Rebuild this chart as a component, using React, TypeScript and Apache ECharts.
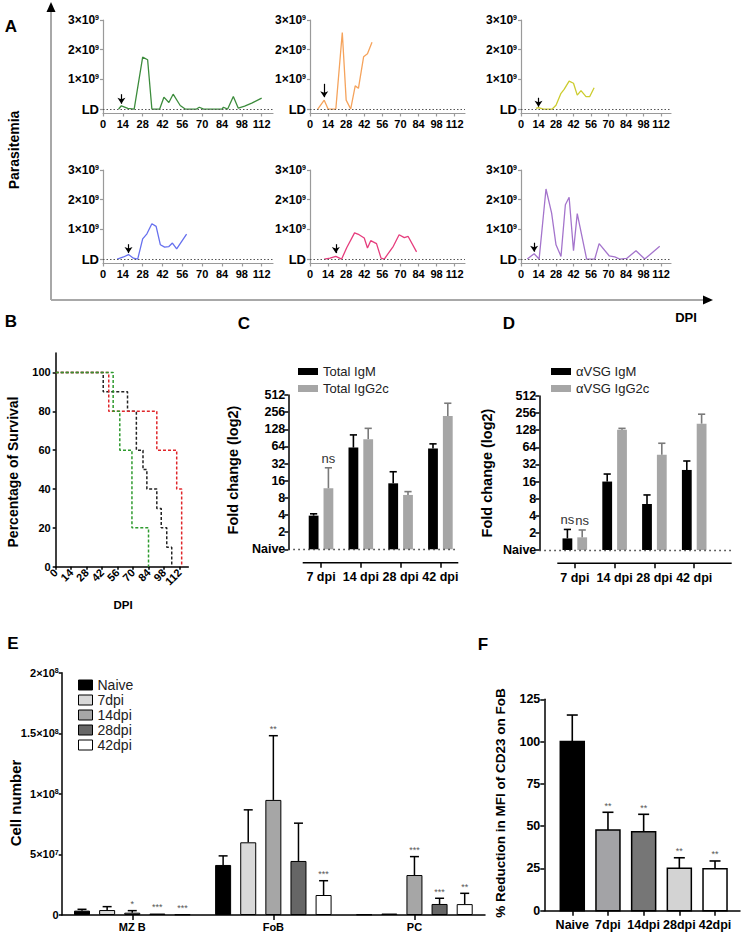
import React, { useEffect, useRef } from "react";
import * as echarts from "echarts";

const FONT = '"Liberation Sans", Arial, Helvetica, sans-serif';

// ---------------- Panel A: parasitemia per mouse (x10^9) ----------------
const dpiTicks = [0, 14, 28, 42, 56, 70, 84, 98, 112];
const parasitemiaTicks = [0, 1, 2, 3];

const mouse1Days = [11, 13, 17.5, 22, 28, 31.5, 34.5, 40, 43, 46.5, 49.5, 54.5, 58, 66, 68, 71, 84, 85, 88, 92, 95.5, 100, 105, 112];
const mouse1Para = [0, 0.11, 0.02, 0, 1.75, 1.66, 0, 0, 0.4, 0.22, 0.5, 0.12, 0, 0, 0.06, 0, 0, 0.06, 0, 0.42, 0.03, 0.1, 0.2, 0.37];
const mouse2Days = [6, 11, 14, 20, 25, 28, 31.5, 35, 37.5, 41.5, 44.5, 48];
const mouse2Para = [0, 0.3, 0, 0, 2.58, 0.3, 0, 0.78, 0.7, 1.76, 1.86, 2.25];
const mouse3Days = [12, 14, 18, 25, 28, 32, 34.5, 38.5, 42, 45, 48, 52, 55, 58.5];
const mouse3Para = [0.02, 0.05, 0, 0, 0.13, 0.53, 0.66, 0.94, 0.87, 0.47, 0.62, 0.42, 0.42, 0.72];
const mouse4Days = [10, 14.5, 18, 21.5, 24.5, 28, 31, 34.5, 37.5, 40.5, 43.5, 46.5, 49, 52, 59];
const mouse4Para = [0, 0.07, 0.15, 0.03, 0, 0.68, 0.85, 1.19, 1.1, 0.48, 0.4, 0.42, 0.54, 0.34, 0.84];
const mouse5Days = [11, 15.5, 20, 24.5, 28.5, 34.5, 38, 42, 44.5, 47, 51.5, 55, 57.5, 64.5, 69, 73, 76, 82.5];
const mouse5Para = [0, 0.03, 0.09, 0, 0.39, 0.88, 0.82, 0.71, 0.37, 0.62, 0.52, 0.03, 0, 0.43, 0.82, 0.72, 0.76, 0.24];
const mouse6Days = [5, 10.5, 14.5, 20, 24.5, 28, 32, 35.5, 38.5, 42, 45, 52.5, 59, 62.5, 70.5, 75, 79, 84.5, 92, 99, 111];
const mouse6Para = [0, 0.18, 0, 2.36, 1.55, 0.48, 0.09, 1.83, 2.08, 0.28, 1.53, 0, 0, 0.52, 0.11, 0.07, 0, 0.02, 0.28, 0, 0.43];

// arrows (first-peak markers)
const arrowDays = [13, 11, 14, 18, 20, 10.5];
const arrowTops = [0.5, 0.85, 0.38, 0.5, 0.5, 0.55];
const arrowTips = [0.18, 0.4, 0.08, 0.2, 0.2, 0.25];

// ---------------- Panel B: survival ----------------
const survivalTicks = [0, 20, 40, 60, 80, 100];
const survBlackDays = [0, 43, 65, 73, 79, 82.5, 91.5, 95.5, 100.5, 105];
const survBlackPct = [100, 90, 80, 60, 50, 40, 30, 20, 10, 0];
const survRedDays = [0, 48, 91.5, 109.5, 114];
const survRedPct = [100, 80, 60, 40, 0];
const survGreenDays = [0, 52, 58, 69, 84];
const survGreenPct = [100, 80, 60, 20, 0];

// ---------------- Panel C / D: fold change ----------------
const dpiCats = ["7 dpi", "14 dpi", "28 dpi", "42 dpi"];
const cTotalIgM = [3.9, 61, 14.4, 59];
const cTotalIgMUpper = [4.2, 102, 23, 71];
const cTotalIgG2c = [11.8, 86, 9, 219];
const cTotalIgG2cUpper = [27, 133, 10.3, 367];
const cIgMNotes = ["", "", "", ""];
const cIgG2cNotes = ["ns", "", "", ""];

const dVsgIgM = [1.6, 16, 6.45, 25.6];
const dVsgIgMUpper = [2.3, 21.7, 9.3, 36.8];
const dVsgIgG2c = [1.67, 130, 47.6, 167];
const dVsgIgG2cUpper = [2.25, 138, 75.5, 245];
const dIgMNotes = ["ns", "", "", ""];
const dIgG2cNotes = ["ns", "", "", ""];
const foldTicks = [0, 1, 2, 3, 4, 5, 6, 7, 8, 9];

// ---------------- Panel E: cell numbers ----------------
const eGroups = ["MZ B", "FoB", "PC"];
const eSeriesNames = ["Naive", "7dpi", "14dpi", "28dpi", "42dpi"];
const eNaive = [0.36e7, 4.13e7, 0.05e7];
const eNaiveUpper = [0.47e7, 4.88e7, 0.05e7];
const e7dpi = [0.41e7, 6.0e7, 0.12e7];
const e7dpiUpper = [0.69e7, 8.68e7, 0.12e7];
const e14dpi = [0.19e7, 9.5e7, 3.3e7];
const e14dpiUpper = [0.36e7, 14.8e7, 4.82e7];
const e28dpi = [0.12e7, 4.46e7, 0.91e7];
const e28dpiUpper = [0.15e7, 7.58e7, 1.38e7];
const e42dpi = [0.05e7, 1.65e7, 0.9e7];
const e42dpiUpper = [0.05e7, 2.83e7, 1.79e7];
const eStars = [
  ["", "", ""],
  ["", "", ""],
  ["*", "**", "***"],
  ["***", "", "***"],
  ["***", "***", "**"],
];
const eTicks = [0, 5e7, 1e8, 1.5e8, 2e8];

// ---------------- Panel F: CD23 MFI ----------------
const fCats = ["Naive", "7dpi", "14dpi", "28dpi", "42dpi"];
const fMean = [100, 47.7, 46.7, 25.1, 24.8];
const fUpper = [115.7, 58.2, 57, 31.3, 29.4];
const fStars = ["", "**", "**", "**", "**"];
const fTicks = [0, 25, 50, 75, 100, 125];

// ---------------- styles ----------------
const aColors = ["#3c8c3c", "#f5a35c", "#cccc2e", "#6670ee", "#e63d7d", "#a474cc"];
const eColors = ["#000000", "#d9d9d9", "#a6a6a6", "#666666", "#ffffff"];
const fColors = ["#000000", "#a3a3a6", "#767676", "#d3d3d3", "#ffffff"];

const log2 = (v: number) => Math.log(v) / Math.LN2;

function buildOption() {
  const grids: any[] = [];
  const xAxes: any[] = [];
  const yAxes: any[] = [];
  const series: any[] = [];

  // ----- Panel A -----
  const mice = [
    [mouse1Days, mouse1Para],
    [mouse2Days, mouse2Para],
    [mouse3Days, mouse3Para],
    [mouse4Days, mouse4Para],
    [mouse5Days, mouse5Para],
    [mouse6Days, mouse6Para],
  ];
  const aLayout = [
    { left: 103, top: 20, width: 170 },
    { left: 310, top: 20, width: 155 },
    { left: 521, top: 20, width: 150 },
    { left: 103, top: 170, width: 170 },
    { left: 310, top: 170, width: 155 },
    { left: 521, top: 170, width: 150 },
  ];
  const grayAxis = { color: "#9a9a9a", width: 1.2 };
  mice.forEach(([days, vals], i) => {
    grids.push({ ...aLayout[i], height: 93.5 });
    xAxes.push({
      gridIndex: i,
      type: "value",
      min: 0,
      max: 120,
      axisLine: { show: true, onZero: false, lineStyle: grayAxis },
      axisTick: { show: true, customValues: dpiTicks, length: 3, lineStyle: grayAxis },
      axisLabel: { customValues: dpiTicks, fontSize: 11, fontWeight: "bold", color: "#000", margin: 5, fontFamily: FONT },
      splitLine: { show: false },
    });
    yAxes.push({
      gridIndex: i,
      type: "value",
      min: -0.15,
      max: 3,
      axisLine: { show: true, onZero: false, lineStyle: grayAxis },
      axisTick: { show: true, customValues: parasitemiaTicks, length: 3, lineStyle: grayAxis },
      axisLabel: {
        customValues: parasitemiaTicks,
        margin: 4,
        formatter: (v: number) => (v === 0 ? "{ld|LD}" : `{b|${v}×10}{s|9}`),
        rich: {
          ld: { fontSize: 13, fontWeight: "bold", color: "#000", fontFamily: FONT },
          b: { fontSize: 12, fontWeight: "bold", color: "#000", fontFamily: FONT },
          s: { fontSize: 7, fontWeight: "bold", color: "#000", fontFamily: FONT, verticalAlign: "top" },
        },
      },
      splitLine: { show: false },
    });
    series.push({
      type: "line",
      name: `mouse${i + 1}`,
      xAxisIndex: i,
      yAxisIndex: i,
      data: (days as number[]).map((d, j) => [d, (vals as number[])[j]]),
      symbol: "none",
      lineStyle: { color: aColors[i], width: 1.3 },
      itemStyle: { color: aColors[i] },
      z: 3,
      markLine: {
        silent: true,
        symbol: ["none", "none"],
        label: { show: false },
        lineStyle: { type: [1.5, 2], color: "#555", width: 1 },
        data: [{ yAxis: 0 }],
      },
    });
    series.push({
      type: "line",
      xAxisIndex: i,
      yAxisIndex: i,
      data: [[arrowDays[i], arrowTips[i]]],
      symbol: "none",
      lineStyle: { opacity: 0 },
      markLine: {
        silent: true,
        symbol: ["none", "arrow"],
        symbolSize: 6,
        label: { show: false },
        lineStyle: { type: "solid", color: "#000", width: 1.2 },
        data: [[{ coord: [arrowDays[i], arrowTops[i]] }, { coord: [arrowDays[i], arrowTips[i]] }]],
      },
    });
  });

  // ----- Panel B (grid 6) -----
  grids.push({ left: 55.7, top: 353, width: 132.6, height: 213.7 });
  const blackAxis = { color: "#000", width: 1.5 };
  xAxes.push({
    gridIndex: 6,
    type: "value",
    min: 0,
    max: 120,
    axisLine: { show: true, onZero: false, lineStyle: blackAxis },
    axisTick: { show: true, customValues: dpiTicks, length: 3, lineStyle: blackAxis },
    axisLabel: { customValues: dpiTicks, rotate: 45, fontSize: 11, fontWeight: "bold", color: "#000", margin: 4, fontFamily: FONT },
    splitLine: { show: false },
  });
  yAxes.push({
    gridIndex: 6,
    type: "value",
    min: 0,
    max: 110,
    axisLine: { show: true, onZero: false, lineStyle: blackAxis },
    axisTick: { show: true, customValues: survivalTicks, length: 3, lineStyle: blackAxis },
    axisLabel: { customValues: survivalTicks, fontSize: 11, fontWeight: "bold", color: "#000", margin: 5, fontFamily: FONT },
    splitLine: { show: false },
  });
  const surv = [
    [survBlackDays, survBlackPct, "#222222"],
    [survRedDays, survRedPct, "#e0262a"],
    [survGreenDays, survGreenPct, "#2e9a2e"],
  ];
  surv.forEach(([days, pct, col]) => {
    series.push({
      type: "line",
      xAxisIndex: 6,
      yAxisIndex: 6,
      step: "end",
      symbol: "none",
      data: (days as number[]).map((d, j) => [d, (pct as number[])[j]]),
      lineStyle: { color: col, width: 1.5, type: [3, 2] },
    });
  });

  // ----- Panel C (grid 7) & D (grid 8) -----
  const groupedBar =
    (offset: number, fill: string, errColor: string, notes: string[]) => (params: any, api: any) => {
      const i = api.value(0);
      const base = api.coord([i, 0]);
      const top = api.coord([i, api.value(1)]);
      const up = api.coord([i, api.value(2)]);
      const cx = base[0] + offset;
      const bw = 9.8;
      const children: any[] = [
        { type: "rect", shape: { x: cx - bw / 2, y: top[1], width: bw, height: base[1] - top[1] }, style: { fill } },
        { type: "line", shape: { x1: cx, y1: top[1], x2: cx, y2: up[1] }, style: { stroke: errColor, lineWidth: 1.6 } },
        { type: "line", shape: { x1: cx - 3.6, y1: up[1], x2: cx + 3.6, y2: up[1] }, style: { stroke: errColor, lineWidth: 1.6 } },
      ];
      const note = notes[params.dataIndex];
      if (note) {
        children.push({
          type: "text",
          style: {
            text: note,
            x: cx,
            y: up[1] - 3,
            textAlign: "center",
            textVerticalAlign: "bottom",
            align: "center",
            verticalAlign: "bottom",
            fontSize: 13,
            fontFamily: FONT,
            fill: "#333",
          },
        });
      }
      return { type: "group", children };
    };

  const foldPanels = [
    {
      grid: { left: 288.3, top: 395, width: 170, height: 154.3 },
      min: -0.822,
      max: 3.45,
      offset: 13.4,
      s: [
        ["Total IgM", cTotalIgM, cTotalIgMUpper, "#000000", "#000000", cIgMNotes, -7.4],
        ["Total IgG2c", cTotalIgG2c, cTotalIgG2cUpper, "#a6a6a6", "#7a7a7a", cIgG2cNotes, 7.4],
      ],
    },
    {
      grid: { left: 539.3, top: 396, width: 192.4, height: 154 },
      min: -0.892,
      max: 3.942,
      offset: 13.3,
      s: [
        ["αVSG IgM", dVsgIgM, dVsgIgMUpper, "#000000", "#000000", dIgMNotes, -7.4],
        ["αVSG IgG2c", dVsgIgG2c, dVsgIgG2cUpper, "#a6a6a6", "#7a7a7a", dIgG2cNotes, 7.4],
      ],
    },
  ];
  foldPanels.forEach((p, k) => {
    const gi = 7 + k;
    grids.push(p.grid);
    xAxes.push({
      gridIndex: gi,
      type: "value",
      min: p.min,
      max: p.max,
      offset: p.offset,
      axisLine: { show: false, onZero: false },
      axisTick: { show: true, customValues: [0, 1, 2, 3], length: 5, lineStyle: blackAxis },
      axisLabel: {
        customValues: [0, 1, 2, 3],
        formatter: (v: number) => dpiCats[Math.round(v)] ?? "",
        fontSize: 12.5,
        fontWeight: "bold",
        color: "#000",
        margin: 8,
        fontFamily: FONT,
      },
      splitLine: { show: false },
    });
    yAxes.push({
      gridIndex: gi,
      type: "value",
      min: 0,
      max: 9,
      axisLine: { show: true, onZero: false, lineStyle: blackAxis },
      axisTick: { show: true, customValues: foldTicks, length: 4, lineStyle: blackAxis },
      axisLabel: {
        customValues: foldTicks,
        formatter: (v: number) => (v === 0 ? "Naive" : String(Math.pow(2, v))),
        fontSize: 12.5,
        fontWeight: "bold",
        color: "#000",
        margin: 3,
        fontFamily: FONT,
      },
      splitLine: { show: false },
    });
    p.s.forEach(([name, mean, upper, fill, errCol, notes, off], si) => {
      series.push({
        type: "custom",
        name,
        xAxisIndex: gi,
        yAxisIndex: gi,
        itemStyle: { color: fill },
        encode: { x: 0, y: [1, 2] },
        data: (mean as number[]).map((m, i) => [i, log2(m), log2((upper as number[])[i])]),
        renderItem: groupedBar(off as number, fill as string, errCol as string, notes as string[]),
        z: 3,
        markLine:
          si === 0
            ? {
                silent: true,
                symbol: ["none", "none"],
                label: { show: false },
                lineStyle: { type: [1.5, 3.5], color: "#333", width: 1.3 },
                data: [{ yAxis: 0 }],
              }
            : undefined,
      });
    });
  });

  // ----- Panel E (grid 9) -----
  grids.push({ left: 61.7, top: 672.7, width: 423.3, height: 242.3 });
  xAxes.push({
    gridIndex: 9,
    type: "category",
    data: eGroups,
    axisLine: { show: true, onZero: false, lineStyle: blackAxis },
    axisTick: { show: true, alignWithLabel: true, length: 5, lineStyle: blackAxis },
    axisLabel: { fontSize: 11, fontWeight: "bold", color: "#000", margin: 6, fontFamily: FONT },
  });
  yAxes.push({
    gridIndex: 9,
    type: "value",
    min: 0,
    max: 2e8,
    axisLine: { show: true, onZero: false, lineStyle: blackAxis },
    axisTick: { show: true, customValues: eTicks, length: 3, lineStyle: blackAxis },
    axisLabel: {
      customValues: eTicks,
      margin: 3,
      formatter: (v: number) => {
        if (v === 0) return "{b|0}";
        const exp = Math.floor(Math.log10(v));
        const mant = v / Math.pow(10, exp);
        return `{b|${mant}×10}{s|${exp}}`;
      },
      rich: {
        b: { fontSize: 11, fontWeight: "bold", color: "#000", fontFamily: FONT },
        s: { fontSize: 7, fontWeight: "bold", color: "#000", fontFamily: FONT, verticalAlign: "top" },
      },
    },
    splitLine: { show: false },
  });
  const eMeans = [eNaive, e7dpi, e14dpi, e28dpi, e42dpi];
  const eUppers = [eNaiveUpper, e7dpiUpper, e14dpiUpper, e28dpiUpper, e42dpiUpper];
  eMeans.forEach((vals, s) => {
    series.push({
      type: "bar",
      name: eSeriesNames[s],
      xAxisIndex: 9,
      yAxisIndex: 9,
      data: vals,
      barWidth: 16,
      barGap: "57%",
      itemStyle: { color: eColors[s], borderColor: "#000", borderWidth: 1 },
    });
  });
  const eErrData: number[][] = [];
  eMeans.forEach((vals, s) => vals.forEach((m, g) => eErrData.push([g, m, eUppers[s][g], s])));
  series.push({
    type: "custom",
    name: "eErr",
    xAxisIndex: 9,
    yAxisIndex: 9,
    encode: { x: 0, y: [1, 2] },
    data: eErrData,
    z: 4,
    renderItem: (params: any, api: any) => {
      const g = api.value(0);
      const s = api.value(3);
      const top = api.coord([g, api.value(1)]);
      const up = api.coord([g, api.value(2)]);
      const cx = top[0] + (s - 2) * 25.12;
      const children: any[] = [];
      if (top[1] - up[1] > 0.8) {
        children.push({ type: "line", shape: { x1: cx, y1: top[1], x2: cx, y2: up[1] }, style: { stroke: "#000", lineWidth: 1.5 } });
        children.push({ type: "line", shape: { x1: cx - 4.5, y1: up[1], x2: cx + 4.5, y2: up[1] }, style: { stroke: "#000", lineWidth: 1.5 } });
      }
      const star = eStars[s][g];
      if (star) {
        children.push({
          type: "text",
          style: {
            text: star,
            x: cx,
            y: up[1] - 2,
            textAlign: "center",
            textVerticalAlign: "bottom",
            align: "center",
            verticalAlign: "bottom",
            fontSize: 9,
            fontFamily: FONT,
            fill: "#555",
          },
        });
      }
      return { type: "group", children };
    },
  });

  // ----- Panel F (grid 10) -----
  grids.push({ left: 544.3, top: 699.3, width: 195.7, height: 211.4 });
  xAxes.push({
    gridIndex: 10,
    type: "value",
    min: -0.784,
    max: 4.7,
    axisLine: { show: true, onZero: false, lineStyle: blackAxis },
    axisTick: { show: true, customValues: [0, 1, 2, 3, 4], length: 5, lineStyle: blackAxis },
    axisLabel: {
      customValues: [0, 1, 2, 3, 4],
      formatter: (v: number) => fCats[Math.round(v)] ?? "",
      fontSize: 12.5,
      fontWeight: "bold",
      color: "#000",
      margin: 8,
      fontFamily: FONT,
    },
    splitLine: { show: false },
  });
  yAxes.push({
    gridIndex: 10,
    type: "value",
    min: 0,
    max: 125,
    axisLine: { show: true, onZero: false, lineStyle: blackAxis },
    axisTick: { show: true, customValues: fTicks, length: 4, lineStyle: blackAxis },
    axisLabel: { customValues: fTicks, fontSize: 12.5, fontWeight: "bold", color: "#000", margin: 4, fontFamily: FONT },
    splitLine: { show: false },
  });
  series.push({
    type: "custom",
    name: "fBars",
    xAxisIndex: 10,
    yAxisIndex: 10,
    encode: { x: 0, y: [1, 2] },
    data: fMean.map((m, i) => [i, m, fUpper[i]]),
    renderItem: (params: any, api: any) => {
      const i = api.value(0);
      const base = api.coord([i, 0]);
      const top = api.coord([i, api.value(1)]);
      const up = api.coord([i, api.value(2)]);
      const cx = base[0];
      const bw = 24;
      const children: any[] = [
        { type: "line", shape: { x1: cx, y1: top[1], x2: cx, y2: up[1] }, style: { stroke: "#000", lineWidth: 1.6 } },
        { type: "line", shape: { x1: cx - 5.5, y1: up[1], x2: cx + 5.5, y2: up[1] }, style: { stroke: "#000", lineWidth: 1.6 } },
        {
          type: "rect",
          shape: { x: cx - bw / 2, y: top[1], width: bw, height: base[1] - top[1] },
          style: { fill: fColors[params.dataIndex], stroke: "#000", lineWidth: 1.5 },
        },
      ];
      const star = fStars[params.dataIndex];
      if (star) {
        children.push({
          type: "text",
          style: {
            text: star,
            x: cx,
            y: up[1] - 2,
            textAlign: "center",
            textVerticalAlign: "bottom",
            align: "center",
            verticalAlign: "bottom",
            fontSize: 9,
            fontFamily: FONT,
            fill: "#555",
          },
        });
      }
      return { type: "group", children };
    },
  });

  // ----- graphic decorations -----
  const T = (text: string, x: number, y: number, size: number, rot = 0, weight = "bold") => ({
    type: "text",
    x,
    y,
    rotation: rot,
    style: {
      text,
      fontSize: size,
      fontWeight: weight,
      fontFamily: FONT,
      fill: "#000",
      textAlign: "center",
      textVerticalAlign: "middle",
      align: "center",
      verticalAlign: "middle",
    },
  });
  const elements: any[] = [
    T("A", 11, 26, 17),
    T("B", 11, 321, 17),
    T("C", 244, 323, 17),
    T("D", 509, 323, 17),
    T("E", 13, 643, 17),
    T("F", 483, 644, 17),
    T("Parasitemia", 14, 150, 14, Math.PI / 2),
    T("DPI", 686, 317, 13),
    T("Percentage of Survival", 13, 472, 14, Math.PI / 2),
    T("DPI", 123, 605, 11.5),
    T("Fold change (log2)", 233, 470, 14.5, Math.PI / 2),
    T("Fold change (log2)", 487, 473, 14.5, Math.PI / 2),
    T("Cell number", 15, 803, 15, Math.PI / 2),
    T("% Reduction in MFI of CD23 on FoB", 500, 803, 13.5, Math.PI / 2),
    { type: "line", shape: { x1: 51, y1: 300, x2: 51, y2: 11 }, style: { stroke: "#a8a8a8", lineWidth: 2 } },
    { type: "polygon", shape: { points: [[46.5, 12], [55.5, 12], [51, 2]] }, style: { fill: "#000" } },
    { type: "line", shape: { x1: 51, y1: 300, x2: 704, y2: 300 }, style: { stroke: "#a8a8a8", lineWidth: 2 } },
    { type: "polygon", shape: { points: [[703, 295.5], [703, 304.5], [713, 300]] }, style: { fill: "#000" } },
    { type: "line", shape: { x1: 302.7, y1: 562.7, x2: 458.3, y2: 562.7 }, style: { stroke: "#000", lineWidth: 1.5 } },
    { type: "line", shape: { x1: 557.3, y1: 563.3, x2: 731.7, y2: 563.3 }, style: { stroke: "#000", lineWidth: 1.5 } },
  ];

  return {
    animation: false,
    backgroundColor: "#ffffff",
    textStyle: { fontFamily: FONT },
    grid: grids,
    xAxis: xAxes,
    yAxis: yAxes,
    legend: [
      {
        data: ["Total IgM", "Total IgG2c"],
        left: 293,
        top: 360,
        orient: "vertical",
        icon: "rect",
        itemWidth: 20,
        itemHeight: 7,
        itemGap: 4,
        selectedMode: false,
        textStyle: { fontSize: 13, color: "#222", fontFamily: FONT },
      },
      {
        data: ["αVSG IgM", "αVSG IgG2c"],
        left: 546,
        top: 360,
        orient: "vertical",
        icon: "rect",
        itemWidth: 20,
        itemHeight: 7,
        itemGap: 4,
        selectedMode: false,
        textStyle: { fontSize: 13, color: "#222", fontFamily: FONT },
      },
      {
        data: eSeriesNames,
        left: 73,
        top: 673,
        orient: "vertical",
        icon: "rect",
        itemWidth: 14,
        itemHeight: 10,
        itemGap: 1,
        selectedMode: false,
        itemStyle: { borderColor: "#000", borderWidth: 1 },
        textStyle: { fontSize: 14, color: "#222", fontFamily: FONT },
      },
    ],
    series,
    graphic: { elements },
  };
}

export default function App() {
  const ref = useRef<HTMLDivElement>(null);
  useEffect(() => {
    if (!ref.current) return;
    const chart = echarts.init(ref.current, undefined, { renderer: "svg" });
    chart.setOption(buildOption() as any);
    return () => chart.dispose();
  }, []);
  return (
    <div
      ref={ref}
      style={{ position: "absolute", left: 0, top: 0, width: 743, height: 936, background: "#fff" }}
    />
  );
}
